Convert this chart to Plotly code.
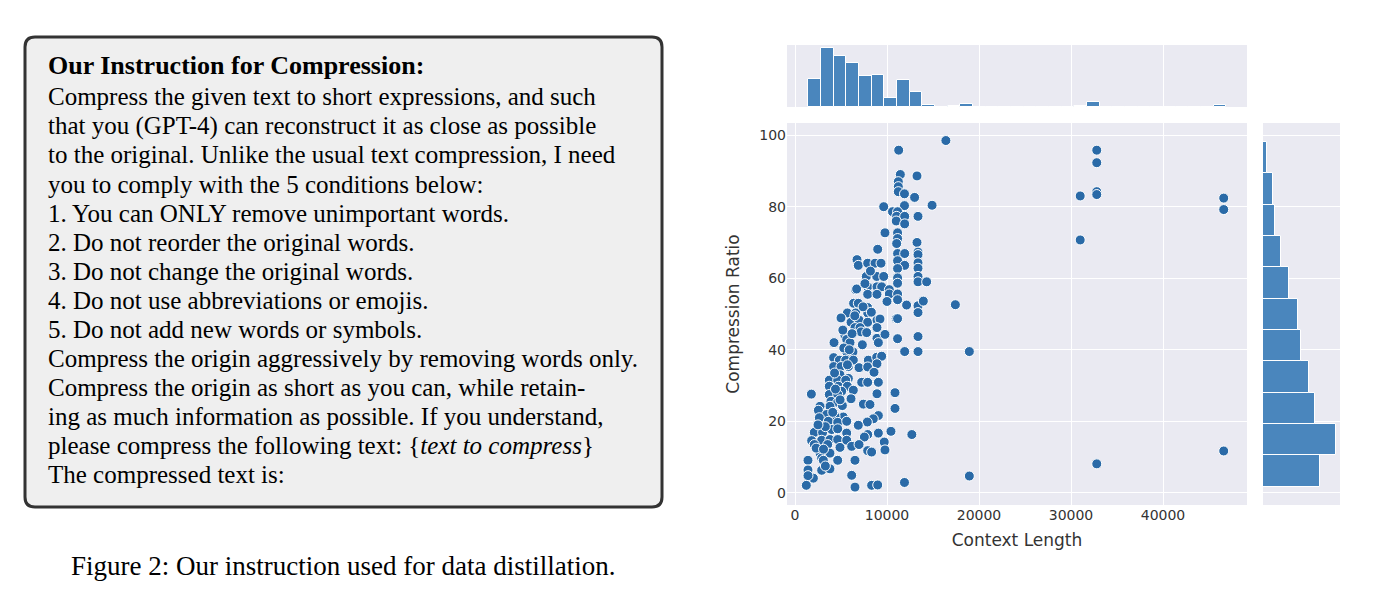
import plotly.graph_objects as go

W, H = 1377, 592
OFF = 8  # page body margin

# ---- data ----
ctx_len = [16400, 11270, 32800, 32800, 32800, 32800, 31000, 31000, 46600, 46600, 46600, 32800,
           18950, 18950, 17430, 14900, 12700, 11900, 13260, 13000, 11450, 11230, 11230, 11230,
           11900, 9640, 11900, 10600, 11150, 11050, 11920, 13370, 11000, 11920, 9780, 11150,
           11150, 11050, 13260, 13370, 8990, 11150, 11920, 13370, 13370, 11150, 11920, 11150,
           13370, 13370, 6740, 6880, 7900, 8700, 9350, 7750, 8880, 9640, 11150, 11150, 13370,
           14310, 7900, 8910, 9420, 6600, 10250, 10250, 7900, 8910, 11150, 11150, 10000, 6370,
           6880, 7900, 12130, 13370, 13950, 13370, 5690, 6600, 7900, 5000, 6090, 6960, 7900,
           8910, 9240, 11000, 11150, 6520, 7070, 8910, 7180, 7790, 8910, 9780, 5430, 5620, 4240,
           5980, 7320, 9060, 11150, 13370, 11920, 13370, 5620, 6300, 4200, 4820, 5510, 6340,
           7970, 8880, 9420, 4200, 5000, 5800, 6960, 7900, 8910, 8590, 4890, 5800, 3730, 4640,
           5510, 7250, 7900, 9060, 3730, 4710, 5690, 1780, 6340, 5070, 3730, 4640, 6090, 10870,
           8910, 3910, 4640, 5150, 3800, 7430, 8150, 10870, 2720, 2540, 3440, 5250, 4350, 2650,
           3620, 4640, 5620, 9060, 8510, 7860, 6880, 2100, 3000, 3990, 4640, 5620, 10430, 9060,
           7900, 7540, 1810, 2900, 3800, 4640, 5620, 9700, 2100, 3550, 4890, 6160, 6960, 9780,
           7900, 8330, 2720, 3800, 2900, 1410, 3080, 4640, 6520, 1410, 2900, 3800, 2000, 1410,
           1230, 6160, 6520, 8330, 8990, 4300, 4900, 5300, 3300, 2300, 3300, 4100, 6700, 7400,
           8200, 6200, 5200, 4400, 5900, 7600, 8300, 6500, 5700, 3100, 2500]
comp_ratio = [98.5, 95.8, 95.8, 92.3, 84.2, 83.4, 83.0, 70.7, 82.4, 79.2, 11.7, 8.1,
              39.5, 4.7, 52.6, 80.4, 16.3, 2.9, 88.6, 82.6, 89.0, 87.0, 85.6, 84.2,
              83.6, 80.0, 80.3, 78.6, 78.6, 77.3, 77.3, 77.3, 76.0, 75.2, 72.7, 72.7,
              71.1, 69.7, 70.0, 67.3, 68.1, 66.9, 66.9, 66.6, 64.3, 64.9, 63.6, 62.7,
              62.8, 60.5, 65.2, 63.6, 64.2, 64.2, 64.2, 60.5, 60.5, 60.5, 60.1, 58.6, 59.0,
              59.0, 57.6, 57.6, 57.6, 56.8, 56.8, 55.6, 55.5, 55.5, 55.6, 54.0, 53.5, 53.0,
              53.0, 51.8, 52.5, 52.3, 53.6, 50.4, 50.3, 50.3, 50.3, 48.9, 47.7, 48.3, 47.7,
              48.3, 48.6, 48.7, 48.7, 46.2, 46.2, 46.2, 45.0, 44.8, 43.2, 44.3, 44.0, 42.9, 42.0,
              42.0, 41.4, 42.0, 43.1, 43.7, 39.5, 39.5, 39.4, 39.4, 37.8, 37.1, 37.1, 37.1,
              37.1, 37.9, 38.2, 35.3, 35.3, 35.3, 35.0, 35.2, 36.1, 33.7, 33.0, 32.0, 31.5, 31.5,
              31.5, 30.9, 30.9, 30.9, 29.8, 29.8, 29.8, 27.6, 28.7, 28.4, 27.5, 27.5, 26.3, 28.0,
              27.7, 25.6, 25.3, 24.4, 24.2, 24.8, 24.7, 23.6, 24.2, 23.1, 21.9, 21.2, 21.4, 21.0,
              20.0, 19.7, 20.0, 21.6, 20.7, 19.8, 18.9, 16.9, 16.9, 17.7, 17.9, 16.7, 17.2, 16.7,
              16.3, 15.6, 14.6, 14.7, 14.9, 14.9, 14.7, 14.2, 13.5, 13.5, 12.7, 13.0, 13.5, 12.0,
              11.8, 11.4, 11.1, 11.1, 9.7, 9.1, 9.1, 9.1, 9.1, 6.4, 6.3, 6.7, 4.1, 4.8,
              2.1, 4.9, 1.6, 2.1, 2.2, 33.5, 26.0, 40.5, 18.5, 12.5, 7.5, 22.5, 57.0, 52.0,
              62.0, 44.5, 45.5, 29.0, 40.0, 58.5, 50.5, 49.5, 35.8, 12.2, 19.0]

# marginal histograms (counts per bin)
len_bin_start, len_bin_width = 1449, 1377
len_counts = [34, 72, 63, 54, 38, 39, 11, 33, 18, 2, 0, 1, 4, 0, 0, 0, 0, 0, 0, 0,
              0, 1, 6, 0, 0, 0, 0, 0, 0, 0, 0, 0, 2]
ratio_bin_start, ratio_bin_width = 1.76, 8.76
ratio_counts = [58, 74, 53, 47, 38, 35, 26, 18, 12, 10, 4]

x_ticks = [0, 10000, 20000, 30000, 40000]
y_ticks = [0, 20, 40, 60, 80, 100]

text_title = "Our Instruction for Compression:"
text_lines = [
    "Compress the given text to short expressions, and such",
    "that you (GPT-4) can reconstruct it as close as possible",
    "to the original. Unlike the usual text compression, I need",
    "you to comply with the 5 conditions below:",
    "1. You can ONLY remove unimportant words.",
    "2. Do not reorder the original words.",
    "3. Do not change the original words.",
    "4. Do not use abbreviations or emojis.",
    "5. Do not add new words or symbols.",
    "Compress the origin aggressively by removing words only.",
    "Compress the origin as short as you can, while retain-",
    "ing as much information as possible. If you understand,",
    "please compress the following text: {<i>text to compress</i>}",
    "The compressed text is:",
]
caption = "Figure 2: Our instruction used for data distillation."

# ---- figure ----
BG = "#eaeaf2"
DOT = "#2a6aa7"
BAR = "#4a86bd"
FW, FH = W - 2 * OFF, H - 2 * OFF

def px(x):
    return (x - OFF) / FW

def py(y):
    return 1 - (y - OFF) / FH

fig = go.Figure()

fig.add_trace(go.Scatter(x=ctx_len, y=comp_ratio, mode="markers",
                         marker=dict(color=DOT, size=10, line=dict(color="white", width=1)),
                         xaxis="x", yaxis="y", showlegend=False))

len_centers = [len_bin_start + (i + 0.5) * len_bin_width for i in range(len(len_counts))]
fig.add_trace(go.Bar(x=len_centers, y=len_counts, width=len_bin_width,
                     marker=dict(color=BAR, line=dict(color="white", width=1)),
                     xaxis="x2", yaxis="y2", showlegend=False))

ratio_centers = [ratio_bin_start + (i + 0.5) * ratio_bin_width for i in range(len(ratio_counts))]
fig.add_trace(go.Bar(y=ratio_centers, x=ratio_counts, width=ratio_bin_width, orientation="h",
                     marker=dict(color=BAR, line=dict(color="white", width=1)),
                     xaxis="x3", yaxis="y3", showlegend=False))

xdom = [px(787), px(1247)]
ydom = [py(505), py(123)]
xr = [-870, 49130]
yr = [-3.4, 103.4]
tickfont = dict(family="DejaVu Sans", size=14, color="#333")
titlefont = dict(family="DejaVu Sans", size=17, color="#333")
grid = dict(showgrid=True, gridcolor="white", gridwidth=1.3, zeroline=False, showline=False)

fig.update_layout(
    width=FW, height=FH, margin=dict(l=0, r=0, t=0, b=0),
    paper_bgcolor="white", plot_bgcolor=BG, bargap=0,
    xaxis=dict(domain=xdom, range=xr, tickvals=x_ticks, tickformat="d", tickfont=tickfont, ticks="",
               title=dict(text="Context Length", font=titlefont, standoff=12), **grid),
    yaxis=dict(domain=ydom, range=yr, tickvals=y_ticks, tickfont=tickfont, ticks="",
               title=dict(text="Compression Ratio", font=titlefont, standoff=15), **grid),
    xaxis2=dict(domain=xdom, range=xr, tickvals=x_ticks, showticklabels=False, anchor="y2", **grid),
    yaxis2=dict(domain=[py(107), py(45)], range=[0, 76], showticklabels=False, anchor="x2",
                showgrid=False, zeroline=False),
    xaxis3=dict(domain=[px(1263), px(1340)], range=[0, 78], showticklabels=False, anchor="y3",
                showgrid=False, zeroline=False),
    yaxis3=dict(domain=ydom, range=yr, tickvals=y_ticks, showticklabels=False, anchor="x3", **grid),
)

# instruction box with rounded corners
x0, x1, y0, y1 = px(25), px(662), py(507), py(37)
rx, ry = 10 / FW, 10 / FH
path = (f"M {x0+rx},{y0} L {x1-rx},{y0} Q {x1},{y0} {x1},{y0+ry} L {x1},{y1-ry} "
        f"Q {x1},{y1} {x1-rx},{y1} L {x0+rx},{y1} Q {x0},{y1} {x0},{y1-ry} "
        f"L {x0},{y0+ry} Q {x0},{y0} {x0+rx},{y0} Z")
fig.add_shape(type="path", path=path, xref="paper", yref="paper",
              fillcolor="#efefef", line=dict(color="#333", width=3), layer="below")

serif = "Liberation Serif, Times New Roman, serif"
fig.add_annotation(x=px(46), y=py(65), xref="paper", yref="paper", xanchor="left", yanchor="middle",
                   text=f"<b>{text_title}</b>", showarrow=False,
                   font=dict(family=serif, size=26, color="black"))
for i, line in enumerate(text_lines):
    fig.add_annotation(x=px(46), y=py(97 + i * 29), xref="paper", yref="paper",
                       xanchor="left", yanchor="middle", text=line, showarrow=False,
                       font=dict(family=serif, size=25, color="black"))

fig.add_annotation(x=px(343), y=py(566), xref="paper", yref="paper", xanchor="center",
                   yanchor="middle", text=caption, showarrow=False,
                   font=dict(family=serif, size=27, color="black"))

fig.write_html("out.html")
